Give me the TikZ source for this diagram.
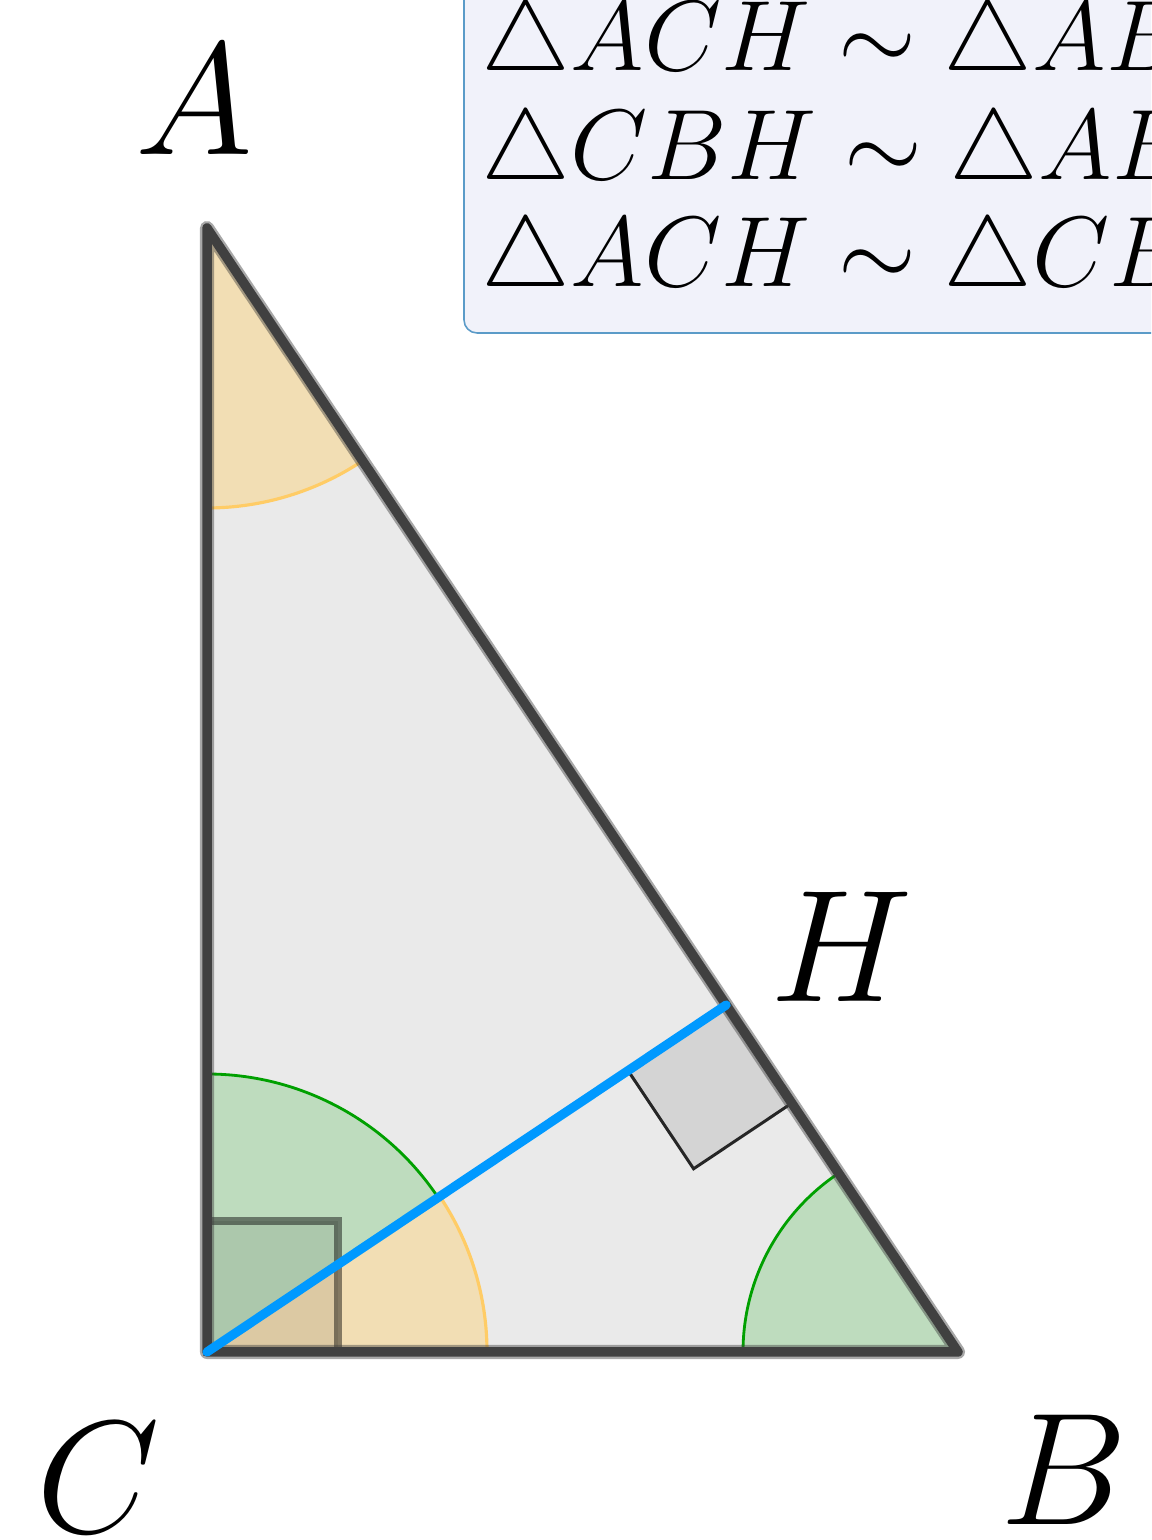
\documentclass[tikz,border=0pt]{standalone}
\usepackage{fix-cm}
\usetikzlibrary{calc}
\definecolor{edgecol}{HTML}{404040}
\definecolor{trifill}{HTML}{EAEAEA}
\definecolor{orfill}{HTML}{F2DEB4}
\definecolor{orline}{HTML}{FFCC66}
\definecolor{grfill}{HTML}{BEDCBE}
\definecolor{grline}{HTML}{00A000}
\definecolor{bluecol}{HTML}{0099FF}
\definecolor{boxfill}{HTML}{F1F2FA}
\definecolor{boxline}{HTML}{5B9BC8}
\definecolor{sqfill}{HTML}{D4D4D4}
\tikzset{
  tri/.style={fill=trifill},
  triedge/.style={draw=edgecol, line width=2.7pt, line join=round, line cap=round},
  trihalo/.style={draw=edgecol, draw opacity=0.45, line width=4pt, line join=round},
  orsector/.style={fill=orfill},
  grsector/.style={fill=grfill},
  orarc/.style={draw=orline, line width=0.9pt},
  grarc/.style={draw=grline, line width=0.8pt},
  rightC/.style={fill=black, fill opacity=0.09, draw=black, draw opacity=0.45, line width=2pt},
  rightH/.style={fill=sqfill, draw=black!85, line width=0.85pt, line join=miter},
  altitude/.style={draw=bluecol, line width=2.6pt, line cap=round},
  infobox/.style={fill=boxfill, draw=boxline, line width=0.45pt, rounded corners=0.13cm},
  boxtext/.style={anchor=base west, inner sep=0pt, font=\fontsize{28.45}{30}\selectfont},
  vlabel/.style={anchor=base, inner sep=0pt, font=\fontsize{45.5}{50}\selectfont}
}
\begin{document}
\begin{tikzpicture}[x=0.01cm, y=0.01cm]
\useasboundingbox (0,0) rectangle (1151,1540);
\clip (0,0) rectangle (1151,1540);
\fill[white] (0,0) rectangle (1151,1540);

\coordinate (C) at (207,188);
\coordinate (A) at (207,1312);
\coordinate (B) at (958,188);
\coordinate (H) at ($(A)!(C)!(B)$);

% info box
\draw[infobox] (464,1207) rectangle (1500,1700);
\node[boxtext] (l1) at (481,1469) {$\triangle ACH \sim \triangle ABC$};
\node[boxtext] (l2) at (481,1360) {$\triangle CBH \sim \triangle ABC$};
\node[boxtext] (l3) at (481,1253) {$\triangle ACH \sim \triangle CBH$};

% triangle fill
\fill[tri] (A) -- (B) -- (C) -- cycle;

% angle sectors
\fill[orsector] (A) -- ($(A)+(270:280)$) arc[start angle=270, end angle=303.75, radius=280] -- cycle;
\draw[orarc] ($(A)+(270:280)$) arc[start angle=270, end angle=303.75, radius=280];
\fill[orsector] (C) -- ($(C)+(0:280)$) arc[start angle=0, end angle=33.75, radius=280] -- cycle;
\draw[orarc] ($(C)+(0:280)$) arc[start angle=0, end angle=33.75, radius=280];
\fill[grsector] (C) -- ($(C)+(33.75:278)$) arc[start angle=33.75, end angle=90, radius=278] -- cycle;
\draw[grarc] ($(C)+(33.75:278)$) arc[start angle=33.75, end angle=90, radius=278];
\fill[grsector] (B) -- ($(B)+(123.75:215)$) arc[start angle=123.75, end angle=180, radius=215] -- cycle;
\draw[grarc] ($(B)+(123.75:215)$) arc[start angle=123.75, end angle=180, radius=215];

% right angle marks
\filldraw[rightC] (C) rectangle ++(131,131);
\coordinate (hc) at ($(H)!1.18cm!(C)$);
\coordinate (hb) at ($(H)!1.18cm!(B)$);
\coordinate (hm) at ($(hc)+(hb)-(H)$);
\filldraw[rightH] (H) -- (hc) -- (hm) -- (hb) -- cycle;

% triangle edges
\draw[trihalo] (A) -- (B) -- (C) -- cycle;
\draw[triedge] (A) -- (B) -- (C) -- cycle;

% altitude
\draw[altitude] (C) -- (H);

% vertex labels
\node[vlabel] (lA) at (194,1385) {$A$};
\node[vlabel] (lH) at (842,538) {$H$};
\node[vlabel] (lC) at (98,8) {$C$};
\node[vlabel] (lB) at (1064,15) {$B$};
\end{tikzpicture}
\end{document}
